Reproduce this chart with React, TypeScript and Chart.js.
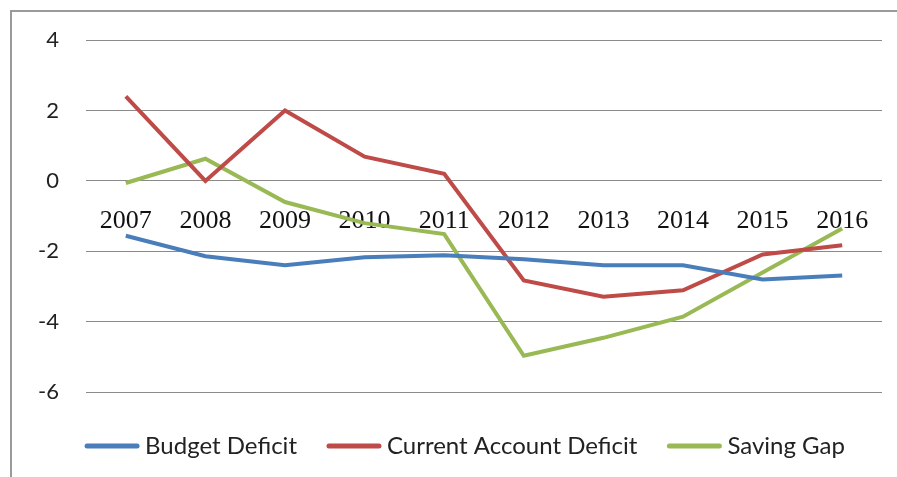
import React, { useEffect, useRef } from "react";
import { Chart, registerables } from "chart.js";

Chart.register(...registerables);

const years = ["2007", "2008", "2009", "2010", "2011", "2012", "2013", "2014", "2015", "2016"];
const budgetDeficit = [-1.56, -2.14, -2.4, -2.17, -2.11, -2.23, -2.4, -2.4, -2.8, -2.69];
const currentAccountDeficit = [2.4, 0.0, 2.0, 0.69, 0.2, -2.83, -3.29, -3.11, -2.09, -1.83];
const savingGap = [-0.06, 0.63, -0.6, -1.2, -1.51, -4.97, -4.46, -3.86, -2.6, -1.35];
const seriesNames = ["Budget Deficit", "Current Account Deficit", "Saving Gap"];
const seriesColors = ["#4a7ebb", "#be4b48", "#98b954"];
const yTicks = [4, 2, 0, -2, -4, -6];

const yearLabelsPlugin = {
  id: "yearLabels",
  beforeDatasetsDraw(chart: any) {
    const { ctx, scales } = chart;
    const x = scales.x;
    const y = scales.y;
    ctx.save();
    ctx.font = "26px 'Liberation Serif', 'Times New Roman', serif";
    ctx.fillStyle = "#111";
    ctx.textAlign = "center";
    ctx.textBaseline = "middle";
    const y0 = y.getPixelForValue(0) + 40;
    years.forEach((lab, i) => {
      ctx.fillText(lab, x.getPixelForValue(i), y0);
    });
    ctx.restore();
  },
};

const legendPlugin = {
  id: "customLegend",
  afterDraw(chart: any) {
    const { ctx, chartArea } = chart;
    ctx.save();
    ctx.font = "24px Lato, 'Open Sans', sans-serif";
    ctx.textBaseline = "middle";
    ctx.textAlign = "left";
    const lineLen = 54;
    const gapText = 6;
    const gapItem = 30;
    const widths = seriesNames.map((n) => lineLen + gapText + ctx.measureText(n).width);
    const total = widths.reduce((a, b) => a + b, 0) + gapItem * (seriesNames.length - 1);
    let x = 465 - total / 2;
    const yc = chartArea.bottom + 54;
    seriesNames.forEach((n, i) => {
      ctx.strokeStyle = seriesColors[i];
      ctx.lineWidth = 5;
      ctx.lineCap = "round";
      ctx.beginPath();
      ctx.moveTo(x + 2, yc);
      ctx.lineTo(x + lineLen - 2, yc);
      ctx.stroke();
      ctx.fillStyle = "#222";
      ctx.fillText(n, x + lineLen + gapText, yc);
      x += widths[i] + gapItem;
    });
    ctx.restore();
  },
};

export default function App() {
  const ref = useRef<HTMLCanvasElement | null>(null);
  useEffect(() => {
    if (!ref.current) return;
    const data = [budgetDeficit, currentAccountDeficit, savingGap];
    const chart = new Chart(ref.current, {
      type: "line",
      data: {
        labels: years,
        datasets: seriesNames.map((name, i) => ({
          label: name,
          data: data[i],
          borderColor: seriesColors[i],
          backgroundColor: seriesColors[i],
          borderWidth: 4,
          pointRadius: 0,
          tension: 0,
          fill: false,
        })),
      },
      options: {
        animation: false,
        responsive: false,
        maintainAspectRatio: false,
        devicePixelRatio: 1,
        layout: { padding: { top: 40, bottom: 85, left: 0, right: 15 } },
        plugins: { legend: { display: false }, tooltip: { enabled: false } },
        scales: {
          x: {
            type: "category",
            offset: true,
            display: false,
          },
          y: {
            min: -6,
            max: 4,
            afterBuildTicks(scale: any) {
              scale.ticks = yTicks.map((v) => ({ value: v }));
            },
            afterFit(scale: any) {
              scale.width = 86;
            },
            border: { display: false },
            grid: { color: "#8a8a8a", lineWidth: 1, drawTicks: false },
            ticks: {
              padding: 27,
              color: "#222",
              font: { family: "Lato, 'Open Sans', sans-serif", size: 22 },
            },
          },
        },
      },
      plugins: [yearLabelsPlugin, legendPlugin],
    });
    return () => chart.destroy();
  }, []);
  return (
    <div style={{ position: "absolute", left: 0, top: 0, width: 897, height: 477, background: "#fff", overflow: "hidden" }}>
      <div
        style={{
          position: "absolute",
          left: 10,
          top: 10,
          width: 920,
          height: 500,
          borderLeft: "2px solid #9a9a9a",
          borderTop: "2px solid #9a9a9a",
          boxSizing: "border-box",
        }}
      />
      <canvas ref={ref} width={897} height={477} style={{ position: "absolute", left: 0, top: 0 }} />
    </div>
  );
}
